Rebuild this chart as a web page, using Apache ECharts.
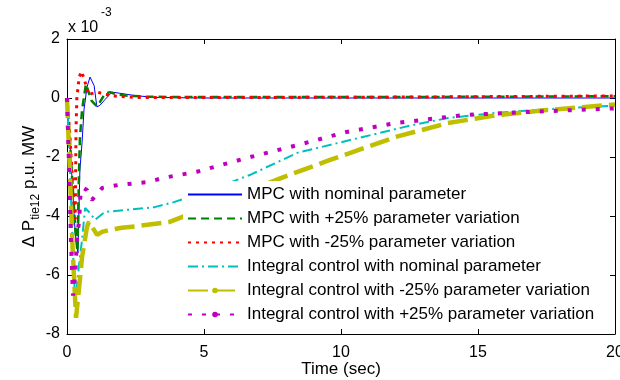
<!DOCTYPE html>
<html><head><meta charset="utf-8">
<script src="https://cdn.jsdelivr.net/npm/echarts@6/dist/echarts.min.js"></script>
<style>html,body{margin:0;padding:0;background:#fff}#c{width:620px;height:380px}</style>
</head><body><div id="c"></div>
<script>
// Time (sec) and ΔP_tie12 values (x 10^-3 p.u. MW)
const xTickValues = [0, 5, 10, 15, 20];
const yTickValues = [-8, -6, -4, -2, 0, 2];
const seriesNames = [
  'MPC with nominal parameter',
  'MPC with +25% parameter variation',
  'MPC with -25% parameter variation',
  'Integral control with nominal parameter',
  'Integral control with -25% parameter variation',
  'Integral control with +25% parameter variation'
];

const tBlue = [0, 0.1, 0.2, 0.3, 0.4, 0.47, 0.55, 0.62, 0.73, 0.84, 0.99, 1.09, 1.2, 1.39, 1.64, 1.93, 2.5, 3.2, 5, 8, 12, 16, 20];
const vBlue = [0, -1.4, -3.0, -4.6, -5.25, -2.45, -1.5, -0.4, 0.37, 0.71, 0.42, -0.3, -0.25, -0.05, 0.2, 0.16, 0.08, 0.02, 0, 0, 0, 0, 0];

const tGreen = [0, 0.1, 0.2, 0.3, 0.38, 0.44, 0.47, 0.55, 0.69, 0.8, 0.9, 1.09, 1.2, 1.39, 1.57, 1.8, 2.2, 3, 5, 10, 15, 20];
const vGreen = [0, -1.3, -2.9, -4.4, -5.2, -2.45, -1.4, -0.4, 0.47, 0.17, -0.1, -0.28, -0.14, 0.15, 0.2, 0.12, 0.08, 0.04, 0.03, 0.03, 0.04, 0.06];

const tRed = [0, 0.1, 0.2, 0.3, 0.33, 0.36, 0.44, 0.52, 0.62, 0.7, 0.8, 0.9, 1.1, 1.4, 1.8, 2.5, 4, 8, 12, 16, 20];
const vRed = [0, -1.2, -2.8, -4.1, -1.0, 0.0, 0.68, 0.9, 0.68, 0.4, 0.1, 0.15, 0.2, 0.12, 0.06, 0.02, 0.02, 0.02, 0.03, 0.05, 0.07];

const tCyan = [0, 0.1, 0.2, 0.3, 0.4, 0.47, 0.55, 0.66, 0.84, 1.02, 1.39, 2.1, 3.2, 3.9, 5, 6.7, 8.4, 10.8, 12.6, 13.9, 15.7, 17.5, 20];
const vCyan = [0, -2.2, -4.8, -7.0, -6.0, -5.4, -4.8, -3.73, -3.9, -4.13, -3.86, -3.8, -3.7, -3.53, -3.2, -2.6, -1.86, -1.32, -0.92, -0.68, -0.5, -0.38, -0.26];

const tYellow = [0, 0.1, 0.2, 0.33, 0.47, 0.55, 0.73, 0.8, 1.1, 1.28, 1.57, 2.0, 2.5, 3.75, 5, 6.5, 7.9, 9.6, 12, 13.9, 15.7, 17.5, 20];
const vYellow = [0, -2.4, -5.0, -7.45, -6.17, -5.39, -4.37, -4.2, -4.64, -4.54, -4.47, -4.4, -4.35, -4.2, -3.75, -3.2, -2.68, -2.1, -1.32, -0.85, -0.58, -0.41, -0.22];

const tMagenta = [0, 0.08, 0.15, 0.22, 0.3, 0.37, 0.44, 0.5, 0.6, 0.73, 0.91, 1.28, 1.86, 2.96, 3.5, 4.74, 6.57, 8.4, 10.2, 12, 14.45, 16.9, 20];
const vMagenta = [0, -2.5, -5.0, -6.7, -6.0, -4.64, -4.2, -3.12, -3.05, -3.12, -3.46, -3.05, -2.95, -2.85, -2.71, -2.5, -2.03, -1.6, -1.15, -0.85, -0.58, -0.47, -0.35];

const FONT = '"Liberation Sans", Arial, Helvetica, sans-serif';
function pairs(t, v) { return t.map((x, i) => [x, v[i]]); }

function lineSeries(name, t, v, color, width, dash) {
  return {
    name: name, type: 'line', data: pairs(t, v),
    symbol: 'circle', symbolSize: 6, showSymbol: false,
    itemStyle: { color: color },
    lineStyle: { color: color, width: width, type: dash, cap: 'butt' },
    smooth: false, animation: false
  };
}

const chart = echarts.init(document.getElementById('c'));
const axisCommon = {
  axisLine: { show: true, onZero: false, lineStyle: { color: '#000', width: 1 } },
  axisTick: { show: true, inside: true, length: 5, lineStyle: { color: '#000' } },
  splitLine: { show: false }
};
const legendData = seriesNames.map((n, i) => ({
  name: n,
  itemStyle: { opacity: i >= 4 ? 1 : 0 }
}));
chart.setOption({
  animation: false,
  backgroundColor: '#fff',
  grid: { left: 67, right: 5, top: 39, bottom: 46, containLabel: false, outerBoundsMode: 'none' },
  xAxis: [
    Object.assign({}, axisCommon, {
      type: 'value', min: xTickValues[0], max: xTickValues[xTickValues.length - 1], interval: 5,
      axisLabel: { fontSize: 16, color: '#000', fontFamily: FONT, margin: 11 },
      name: 'Time (sec)', nameLocation: 'middle', nameGap: 27, nameMoveOverlap: false,
      nameTextStyle: { fontSize: 17, color: '#000', fontFamily: FONT }
    }),
    Object.assign({}, axisCommon, {
      type: 'value', position: 'top', min: 0, max: 20, interval: 5,
      axisLabel: { show: false }
    })
  ],
  yAxis: [
    Object.assign({}, axisCommon, {
      type: 'value', min: yTickValues[0], max: yTickValues[yTickValues.length - 1], interval: 2,
      axisLabel: { fontSize: 16, color: '#000', fontFamily: FONT, margin: 7 },
      name: '{a|Δ P}{b|tie12}{a| p.u. MW}', nameLocation: 'middle', nameGap: 29, nameMoveOverlap: false,
      nameTextStyle: {
        color: '#000', fontFamily: FONT,
        rich: {
          a: { fontSize: 17, fontFamily: FONT, color: '#000' },
          b: { fontSize: 12, fontFamily: FONT, color: '#000', lineHeight: 12, padding: [12, 0, 0, 0] }
        }
      }
    }),
    Object.assign({}, axisCommon, {
      type: 'value', position: 'right', min: -8, max: 2, interval: 2,
      axisLabel: { show: false }
    })
  ],
  legend: {
    orient: 'vertical', left: 183, top: 181, padding: [5, 8, 5, 4],
    backgroundColor: '#fff', borderWidth: 0,
    itemWidth: 54, itemHeight: 7, itemGap: 7,
    textStyle: { fontSize: 17, color: '#000', fontFamily: FONT },
    data: legendData
  },
  graphic: [
    { type: 'text', left: 68, top: 20, style: { text: 'x 10', fontSize: 16, fontFamily: FONT, fill: '#000' } },
    { type: 'text', left: 101, top: 7, style: { text: '-3', fontSize: 12, fontFamily: FONT, fill: '#000' } }
  ],
  series: [
    lineSeries(seriesNames[0], tBlue, vBlue, '#0000ff', 1, 'solid'),
    lineSeries(seriesNames[1], tGreen, vGreen, '#008000', 2.5, [8, 5]),
    lineSeries(seriesNames[2], tRed, vRed, '#ff0000', 3, [3, 5]),
    lineSeries(seriesNames[3], tCyan, vCyan, '#00bfbf', 2, [10, 4, 2, 4]),
    lineSeries(seriesNames[4], tYellow, vYellow, '#bfbf00', 4.5, [20, 7]),
    lineSeries(seriesNames[5], tMagenta, vMagenta, '#bf00bf', 4, [4, 10])
  ]
});
</script>
</body></html>
